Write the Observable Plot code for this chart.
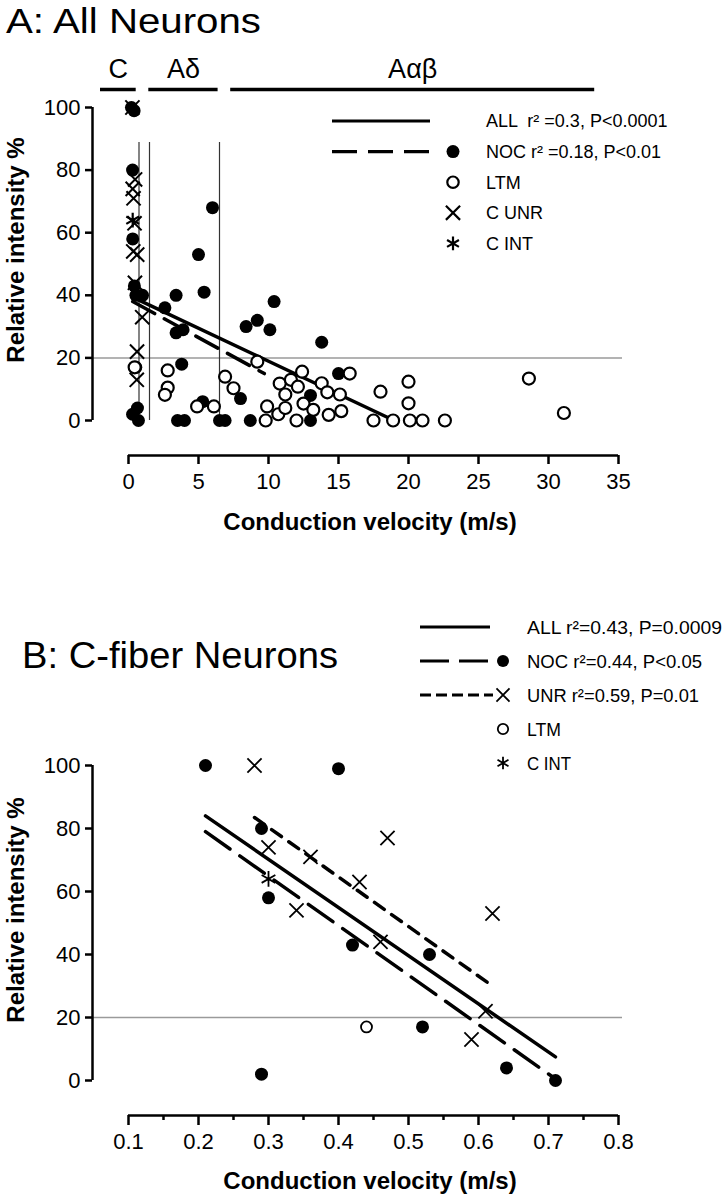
<!DOCTYPE html>
<html><head><meta charset="utf-8">
<script src="https://cdn.jsdelivr.net/npm/d3@7"></script>
<script src="https://cdn.jsdelivr.net/npm/@observablehq/plot@0.6"></script>
<style>
body{margin:0;background:#fff;}
#wrap{width:722px;}
svg{display:block;overflow:visible}
</style></head><body><div id="wrap"></div>
<script>
// ---------- Panel A data ----------
const aXTicks = [0, 5, 10, 15, 20, 25, 30, 35];
const yTicks = [0, 20, 40, 60, 80, 100];
const fiberLabels = ["C", "Aδ", "Aαβ"];
const fiberStart = [-2.0, 1.45, 7.3];
const fiberEnd = [0.55, 6.4, 33.3];
const fiberBounds = [0.75, 1.5, 6.5];

const aNocX = [0.21,0.40,0.29,0.30,0.42,0.53,0.52,0.64,0.29,0.71,1.0,6.0,5.0,5.4,3.4,2.6,3.4,3.9,3.8,10.4,9.2,8.4,10.1,13.8,15.0,5.3,8.0,3.5,4.0,6.5,6.9,8.7,13.0,13.0];
const aNocY = [100,99,80,58,43,40,17,4,2,0,40,68,53,41,40,36,28,29,18,38,32,30,29,25,15,6,7,0,0,0,0,0,8,0];
const aLtmX = [0.44,2.8,2.8,2.6,6.9,7.5,9.2,4.9,6.1,9.9,9.8,10.8,11.6,12.4,12.1,11.2,12.5,13.2,10.7,12.0,13.8,14.2,15.1,15.2,14.3,15.8,11.2,18.0,20.0,20.0,17.5,18.9,20.1,21.0,22.6,28.6,31.1];
const aLtmY = [17,16,10.5,8.2,14,10.3,18.8,4.5,4.5,4.5,0,11.8,13,15.6,10.8,8.3,5.4,3.4,2,0,11.9,9,8.3,3,1.8,15,4,9.2,12.4,5.5,0,0,0,0,0,13.4,2.4];
const aUnrX = [0.28,0.47,0.30,0.36,0.43,0.34,0.62,0.46,0.98,0.61,0.59];
const aUnrY = [100,77,74,71,63,54,53,44,33,22,13];
const aIntX = [0.30];
const aIntY = [64];
const aAllFitX = [0.25, 18.6], aAllFitY = [39.5, 0.8];
const aNocFitX = [0.3, 9.7], aNocFitY = [38, 15];

// ---------- Panel B data ----------
const bXTicks = [0.1, 0.2, 0.3, 0.4, 0.5, 0.6, 0.7, 0.8];
const bXMinor = [0.15, 0.25, 0.35, 0.45, 0.55, 0.65, 0.75];
const bNocX = [0.21,0.40,0.29,0.30,0.42,0.53,0.52,0.64,0.29,0.71];
const bNocY = [100,99,80,58,43,40,17,4,2,0];
const bUnrX = [0.28,0.47,0.30,0.36,0.43,0.34,0.62,0.46,0.61,0.59];
const bUnrY = [100,77,74,71,63,54,53,44,22,13];
const bLtmX = [0.44], bLtmY = [17];
const bIntX = [0.30], bIntY = [64];
const bAllFitX = [0.21, 0.71], bAllFitY = [84, 7.5];
const bNocFitX = [0.21, 0.71], bNocFitY = [79, 0.5];
const bUnrFitX = [0.28, 0.62], bUnrFitY = [83.5, 30];

const legendA = ["ALL  r\u00B2 =0.3, P<0.0001", "NOC r\u00B2 =0.18, P<0.01", "LTM", "C UNR", "C INT"];
const legendB = ["ALL r\u00B2=0.43, P=0.0009", "NOC r\u00B2=0.44, P<0.05", "UNR r\u00B2=0.59, P=0.01", "LTM", "C INT"];

// ---------- helpers ----------
const pts = (xs, ys) => xs.map((x, i) => ({x, y: ys[i]}));
const fibers = fiberLabels.map((label, i) => ({label, start: fiberStart[i], end: fiberEnd[i]}));
const FONT = "'Liberation Sans', Arial, Helvetica, sans-serif";
const noLabel = () => "";

function drawLegend(svg, L) {
  const g = d3.select(svg).append("g")
    .attr("font-family", FONT).attr("font-size", L.fontSize).attr("fill", "black")
    .attr("text-anchor", "start");
  L.rows.forEach((r, i) => {
    const y = L.y0 + i * L.dy;
    if (r.line) {
      g.append("line").attr("x1", L.lineX1).attr("x2", r.lineX2 || L.lineX2)
        .attr("y1", y).attr("y2", y).attr("stroke", "black")
        .attr("stroke-width", L.lineWidth)
        .attr("stroke-dasharray", r.line === "solid" ? null : r.line);
    }
    if (r.symbol === "dot") {
      g.append("circle").attr("cx", L.symX).attr("cy", y).attr("r", L.r).attr("fill", "black");
    } else if (r.symbol === "open") {
      g.append("circle").attr("cx", L.symX).attr("cy", y).attr("r", L.r - 0.8)
        .attr("fill", "white").attr("stroke", "black").attr("stroke-width", L.symStroke);
    } else if (r.symbol === "times" || r.symbol === "asterisk") {
      const t = r.symbol === "times" ? d3.symbolTimes : d3.symbolAsterisk;
      g.append("path").attr("d", d3.symbol(t, Math.PI * L.r * L.r)())
        .attr("transform", `translate(${L.symX},${y})`)
        .attr("fill", "none").attr("stroke", "black").attr("stroke-width", L.symStroke);
    }
    const t = g.append("text").attr("x", L.textX).attr("y", y).attr("dy", "0.36em").text(L.labels[i]);
    if (L.lengths && L.lengths[i]) t.attr("textLength", L.lengths[i]).attr("lengthAdjust", "spacingAndGlyphs");
  });
}

function addText(svg, o) {
  const t = d3.select(svg).append("text")
    .attr("font-family", FONT).attr("font-size", o.size).attr("font-weight", o.weight || "normal")
    .attr("fill", "black").attr("text-anchor", o.anchor || "middle").attr("dy", "0.36em")
    .attr("transform", `translate(${o.x},${o.y})` + (o.rotate ? ` rotate(${o.rotate})` : ""))
    .text(o.text);
  if (o.length) t.attr("textLength", o.length).attr("lengthAdjust", "spacingAndGlyphs");
}

// ---------- Chart A ----------
const chartA = Plot.plot({
  width: 722, height: 600,
  marginLeft: 92, marginRight: 104, marginTop: 107, marginBottom: 145,
  x: {domain: [0, 35], range: [128, 618]},
  y: {domain: [0, 100], range: [420, 107]},
  style: {fontFamily: FONT, fontSize: "22px", background: "white", color: "black", overflow: "visible"},
  marks: [
    Plot.ruleY([20], {x1: 0, x2: 35, insetLeft: -36, insetRight: -4, stroke: "#9a9a9a", strokeWidth: 1.5}),
    Plot.ruleX(fiberBounds, {y1: 0, y2: 100, insetBottom: -35, stroke: "#333", strokeWidth: 1.2}),
    Plot.ruleX([0], {y1: 0, y2: 100, dx: -36, strokeWidth: 2.5}),
    Plot.ruleY([0], {x1: aXTicks[0], x2: aXTicks[aXTicks.length - 1], dy: 35, strokeWidth: 2.5}),
    Plot.axisX(aXTicks, {anchor: "bottom", tickSize: 9, strokeWidth: 2.5, label: null, tickFormat: noLabel}),
    Plot.axisY(yTicks, {anchor: "left", tickSize: 7, strokeWidth: 2.5, label: null, tickFormat: noLabel}),
    Plot.text(aXTicks, {x: d => d, y: () => 0, dy: 61, fontSize: 22, fontFamily: FONT}),
    Plot.text(yTicks, {x: () => 0, y: d => d, dx: -48, textAnchor: "end", fontSize: 22, fontFamily: FONT}),
    Plot.ruleY(fibers, {x1: "start", x2: "end", y: () => 100, dy: -18, strokeWidth: 3.5}),
    Plot.text(fibers, {x: d => (d.start + d.end) / 2, y: () => 100, dy: -38, text: "label", fontSize: 27}),
    Plot.line(pts(aAllFitX, aAllFitY), {x: "x", y: "y", strokeWidth: 3.5}),
    Plot.line(pts(aNocFitX, aNocFitY), {x: "x", y: "y", strokeWidth: 3.5, strokeDasharray: "25,11"}),
    Plot.dot(pts(aNocX, aNocY), {x: "x", y: "y", r: 6.5, fill: "black"}),
    Plot.dot(pts(aLtmX, aLtmY), {x: "x", y: "y", r: 6, fill: "white", stroke: "black", strokeWidth: 2.2}),
    Plot.dot(pts(aUnrX, aUnrY), {x: "x", y: "y", r: 6.5, symbol: "times", stroke: "black", strokeWidth: 2}),
    Plot.dot(pts(aIntX, aIntY), {x: "x", y: "y", r: 7, symbol: "asterisk", stroke: "black", strokeWidth: 2.2})
  ]
});
addText(chartA, {text: "A: All Neurons", x: 6, y: 20, size: 35, anchor: "start", length: 255});
addText(chartA, {text: "Relative intensity %", x: 15, y: 250, size: 24, weight: "bold", rotate: -90});
addText(chartA, {text: "Conduction velocity (m/s)", x: 370, y: 521, size: 24, weight: "bold"});
drawLegend(chartA, {
  fontSize: 18, y0: 121, dy: 30.6, lineX1: 332, lineX2: 430, lineWidth: 3.2,
  symX: 453, r: 6.5, symStroke: 2.2, textX: 486, labels: legendA,
  rows: [{line: "solid"}, {line: "25,11", symbol: "dot"}, {symbol: "open"}, {symbol: "times"}, {symbol: "asterisk"}]
});

// ---------- Chart B ----------
const chartB = Plot.plot({
  width: 722, height: 600,
  marginLeft: 92, marginRight: 104, marginTop: 165, marginBottom: 85,
  x: {domain: [0.1, 0.8], range: [128, 618]},
  y: {domain: [0, 100], range: [480, 165]},
  style: {fontFamily: FONT, fontSize: "22px", background: "white", color: "black", overflow: "visible"},
  marks: [
    Plot.ruleY([20], {x1: 0.1, x2: 0.8, insetLeft: -36, insetRight: -4, stroke: "#9a9a9a", strokeWidth: 1.5}),
    Plot.ruleX([0.1], {y1: 0, y2: 100, dx: -36, strokeWidth: 2.5}),
    Plot.ruleY([0], {x1: bXTicks[0], x2: bXTicks[bXTicks.length - 1], dy: 35, strokeWidth: 2.5}),
    Plot.axisX(bXTicks, {anchor: "bottom", tickSize: 10, strokeWidth: 2.5, label: null, tickFormat: noLabel}),
    Plot.axisX(bXMinor, {anchor: "bottom", tickSize: 5, strokeWidth: 2.5, label: null, tickFormat: noLabel}),
    Plot.axisY(yTicks, {anchor: "left", tickSize: 7, strokeWidth: 2.5, label: null, tickFormat: noLabel}),
    Plot.text(bXTicks, {x: d => d, y: () => 0, dy: 61, text: d => d.toFixed(1), fontSize: 22, fontFamily: FONT}),
    Plot.text(yTicks, {x: () => 0.1, y: d => d, dx: -48, textAnchor: "end", fontSize: 22, fontFamily: FONT}),
    Plot.line(pts(bAllFitX, bAllFitY), {x: "x", y: "y", strokeWidth: 3.5}),
    Plot.line(pts(bNocFitX, bNocFitY), {x: "x", y: "y", strokeWidth: 3.5, strokeDasharray: "30,12"}),
    Plot.line(pts(bUnrFitX, bUnrFitY), {x: "x", y: "y", strokeWidth: 3.5, strokeDasharray: "12,9"}),
    Plot.dot(pts(bNocX, bNocY), {x: "x", y: "y", r: 6.5, fill: "black"}),
    Plot.dot(pts(bLtmX, bLtmY), {x: "x", y: "y", r: 5.5, fill: "white", stroke: "black", strokeWidth: 1.8}),
    Plot.dot(pts(bUnrX, bUnrY), {x: "x", y: "y", r: 6.5, symbol: "times", stroke: "black", strokeWidth: 1.8}),
    Plot.dot(pts(bIntX, bIntY), {x: "x", y: "y", r: 7.5, symbol: "asterisk", stroke: "black", strokeWidth: 1.8})
  ]
});
addText(chartB, {text: "B: C-fiber Neurons", x: 22, y: 55, size: 36, anchor: "start", length: 316});
addText(chartB, {text: "Relative intensity %", x: 15, y: 310, size: 24, weight: "bold", rotate: -90});
addText(chartB, {text: "Conduction velocity (m/s)", x: 370, y: 580, size: 24, weight: "bold"});
drawLegend(chartB, {
  fontSize: 19, y0: 27, dy: 34, lineX1: 420, lineX2: 490, lineWidth: 3.2,
  symX: 503, r: 6, symStroke: 1.8, textX: 527, labels: legendB,
  lengths: [195, 175, 172, 34, 44],
  rows: [{line: "solid"}, {line: "29,10", symbol: "dot", lineX2: 492}, {line: "11,5", symbol: "times", lineX2: 493}, {symbol: "open"}, {symbol: "asterisk"}]
});

document.getElementById("wrap").append(chartA, chartB);
</script>
</body></html>
